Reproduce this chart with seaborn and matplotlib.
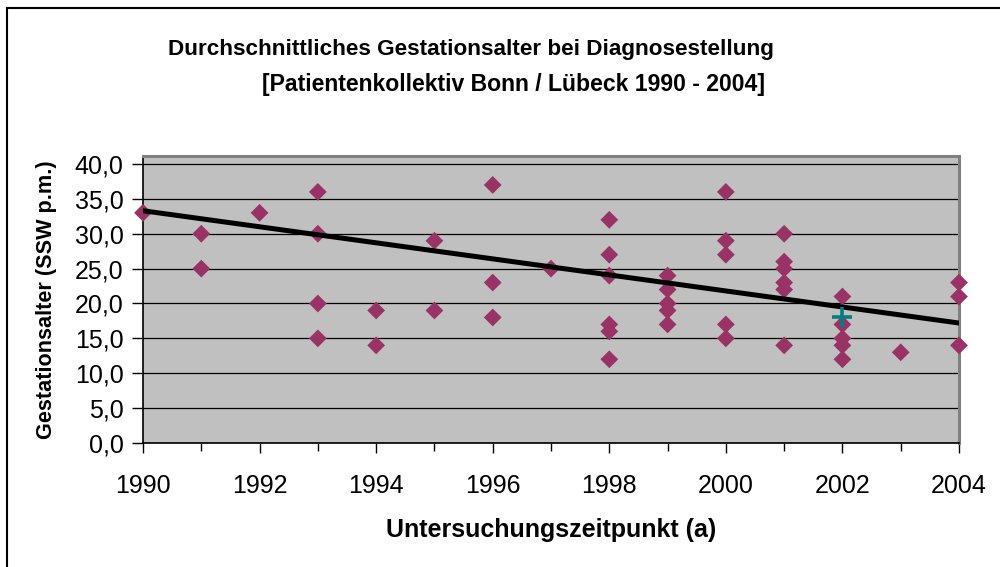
import matplotlib
matplotlib.use("Agg")
import matplotlib.pyplot as plt
from matplotlib.patches import Rectangle
from matplotlib.ticker import FixedLocator, FuncFormatter
import seaborn as sns
import pandas as pd

# Diagnosis year and gestational age (SSW p.m.) per patient
years = [1990,
         1991, 1991,
         1992,
         1993, 1993, 1993, 1993,
         1994, 1994,
         1995, 1995,
         1996, 1996, 1996,
         1997,
         1998, 1998, 1998, 1998, 1998, 1998,
         1999, 1999, 1999, 1999, 1999,
         2000, 2000, 2000, 2000, 2000,
         2001, 2001, 2001, 2001, 2001, 2001,
         2002, 2002, 2002, 2002, 2002,
         2003,
         2004, 2004, 2004]
ages = [33,
        30, 25,
        33,
        36, 30, 20, 15,
        19, 14,
        29, 19,
        37, 23, 18,
        25,
        32, 27, 24, 17, 16, 12,
        24, 22, 20, 19, 17,
        36, 29, 27, 17, 15,
        30, 26, 25, 23, 22, 14,
        21, 17, 15, 14, 12,
        13,
        23, 21, 14]

# Highlighted single case
mark_year = [2002]
mark_age = [18]

# Linear trend, value at start and end of the period
trend_years = [1990, 2004]
trend_ages = [33.3, 17.2]

ytick_values = [0, 5, 10, 15, 20, 25, 30, 35, 40]
xtick_major = [1990, 1992, 1994, 1996, 1998, 2000, 2002, 2004]
xtick_minor = [1991, 1993, 1995, 1997, 1999, 2001, 2003]

df = pd.DataFrame({"Jahr": years, "Alter": ages})
df_mark = pd.DataFrame({"Jahr": mark_year, "Alter": mark_age})
df_trend = pd.DataFrame({"Jahr": trend_years, "Alter": trend_ages})

sns.set_style("white")
plt.rcParams["font.family"] = ["Liberation Sans", "DejaVu Sans"]
plt.rcParams["text.color"] = "black"
plt.rcParams["axes.labelcolor"] = "black"
plt.rcParams["xtick.color"] = "black"
plt.rcParams["ytick.color"] = "black"

fig = plt.figure(figsize=(10, 5.67), dpi=100, facecolor="white")
ax = fig.add_axes([0.143, 0.2187, 0.816, 0.5062])
ax.set_facecolor("#C0C0C0")

sns.scatterplot(data=df, x="Jahr", y="Alter", ax=ax, marker="D", s=82,
                color="#993366", edgecolor="none", zorder=3, clip_on=False)
sns.lineplot(data=df_trend, x="Jahr", y="Alter", ax=ax, color="black",
             linewidth=3.6, zorder=4)
sns.scatterplot(data=df_mark, x="Jahr", y="Alter", ax=ax, marker="+", s=200,
                color="#008080", linewidth=2.6, zorder=5)

ax.set_xlim(1990, 2004)
ax.set_ylim(0, 41.15)

ax.yaxis.set_major_locator(FixedLocator(ytick_values))
ax.yaxis.set_major_formatter(FuncFormatter(lambda v, p: f"{v:.1f}".replace(".", ",")))
ax.xaxis.set_major_locator(FixedLocator(xtick_major))
ax.xaxis.set_minor_locator(FixedLocator(xtick_minor))
ax.xaxis.set_major_formatter(FuncFormatter(lambda v, p: f"{int(v)}"))

ax.grid(axis="y", color="black", linewidth=0.9)
ax.grid(axis="x", visible=False)
ax.set_axisbelow(True)

ax.tick_params(axis="y", which="major", direction="out", length=8, width=1,
               color="black", labelcolor="black", labelsize=18, pad=6, left=True)
ax.tick_params(axis="x", which="major", direction="out", length=7, width=1,
               color="black", labelcolor="black", labelsize=18, pad=15, bottom=True)
ax.tick_params(axis="x", which="minor", direction="out", length=6, width=1,
               color="black", bottom=True)

for side in ("left", "bottom"):
    ax.spines[side].set_color("black")
    ax.spines[side].set_linewidth(1.2)
for side in ("top", "right"):
    ax.spines[side].set_color("#808080")
    ax.spines[side].set_linewidth(2.2)

ax.set_xlabel("")
ax.set_ylabel("")

fig.text(0.471, 1 - 50 / 567, "Durchschnittliches Gestationsalter bei Diagnosestellung",
         ha="center", va="center", fontsize=16.2, fontweight="bold", color="black")
fig.text(0.513, 1 - 85 / 567, "[Patientenkollektiv Bonn / Lübeck 1990 - 2004]",
         ha="center", va="center", fontsize=16.6, fontweight="bold", color="black")
fig.text(0.551, 1 - 530 / 567, "Untersuchungszeitpunkt (a)",
         ha="center", va="center", fontsize=18, fontweight="bold", color="black")
fig.text(0.047, 1 - 300 / 567, "Gestationsalter (SSW p.m.)",
         ha="center", va="center", rotation=90, fontsize=15.6, fontweight="bold",
         color="black")

# Outer chart frame
fig.patches.append(Rectangle((0.0073, -0.05), 1.1, 1.05 - 8 / 567,
                             transform=fig.transFigure, fill=False,
                             edgecolor="black", linewidth=1.5))

fig.savefig("out.png", dpi=100, facecolor="white")
